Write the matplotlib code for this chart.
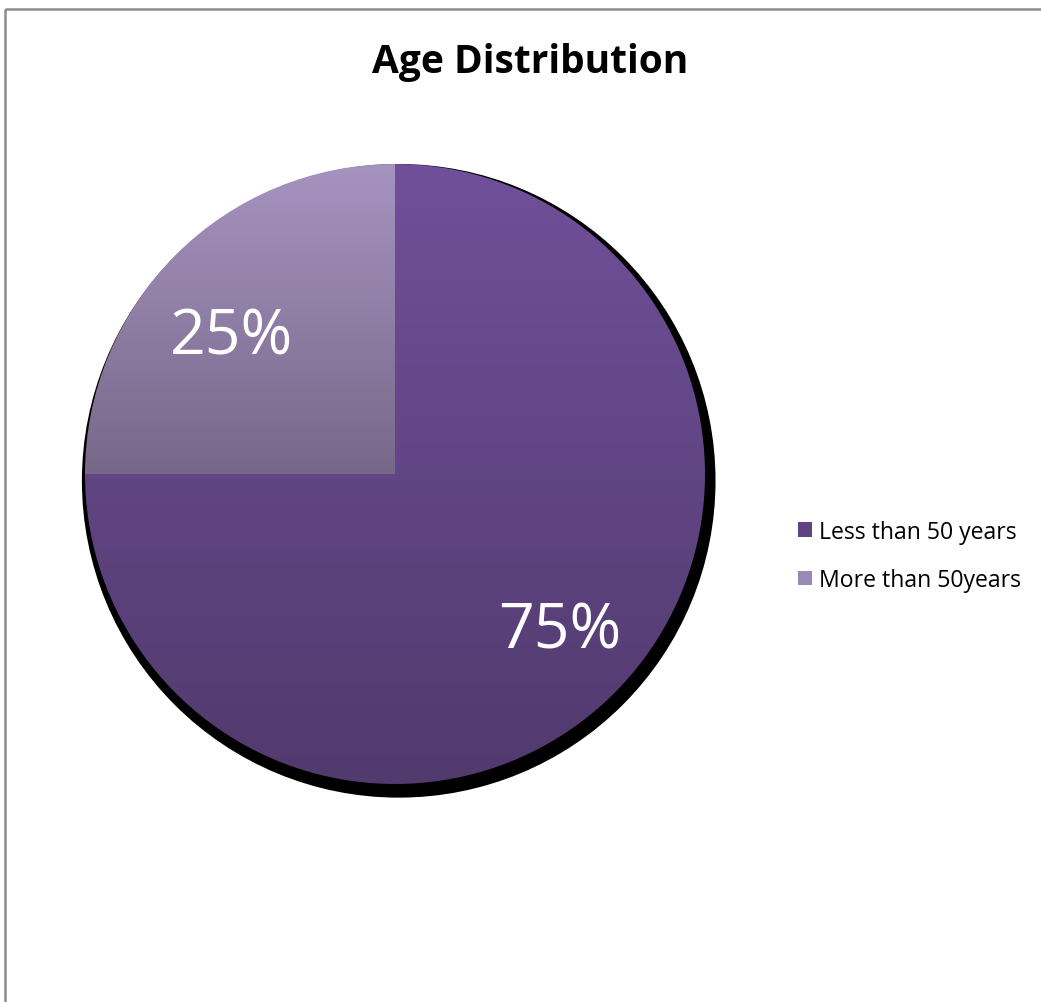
import numpy as np
import matplotlib
matplotlib.use("Agg")
import matplotlib.pyplot as plt
from matplotlib.patches import Circle, Rectangle
from matplotlib.colors import LinearSegmentedColormap

title = "Age Distribution"
categories = ["Less than 50 years", "More than 50years"]
values = [75, 25]
top_colors = ["#70509a", "#a693c0"]
bottom_colors = ["#513a6d", "#776889"]

W, H = 1041, 1003
fig = plt.figure(figsize=(W / 100, H / 100), dpi=100)
fig.patch.set_facecolor("white")

# frame around chart area
frame_ax = fig.add_axes([0, 0, 1, 1])
frame_ax.set_xlim(0, W)
frame_ax.set_ylim(H, 0)
frame_ax.axis("off")
frame_ax.add_patch(Rectangle((5, 10), W + 20, H + 20, fill=False,
                             edgecolor="#8c8c8c", linewidth=1.8))

fig.text(530 / W, 1 - 62 / H, title, ha="center", va="center",
         fontsize=28, fontweight="bold", family="Open Sans", color="black")

# pie axes
cx, cy, r = 395, 475, 310
s = 1.05
ax = fig.add_axes([(cx - r * s) / W, 1 - (cy + r * s) / H, 2 * s * r / W, 2 * s * r / H])
ax.set_xlim(-s, s)
ax.set_ylim(-s, s)
ax.set_aspect("equal")
ax.axis("off")

ax.add_patch(Circle((0.012, -0.022), 1.022, facecolor="black", edgecolor="none", zorder=0))

wedges, texts, autotexts = ax.pie(
    values, startangle=90, counterclock=False, radius=1,
    autopct="%.0f%%", pctdistance=0.71,
    textprops=dict(color="white", fontsize=45, family="Open Sans"),
    wedgeprops=dict(linewidth=0),
)

for w, tc, bc in zip(wedges, top_colors, bottom_colors):
    w.set_facecolor("none")
    bb = w.get_path().get_extents(w.get_patch_transform())
    cmap = LinearSegmentedColormap.from_list("g", [bc, tc])
    grad = np.linspace(0, 1, 256).reshape(-1, 1)
    im = ax.imshow(grad, cmap=cmap, origin="lower", aspect="auto",
                   extent=[bb.x0, bb.x1, bb.y0, bb.y1], zorder=1)
    im.set_clip_path(w)
    w.set_zorder(2)
ax.set_xlim(-s, s)
ax.set_ylim(-s, s)

label_pos = [(0.531, -0.561), (-0.527, 0.390)]
for t, (x, y) in zip(autotexts, label_pos):
    t.set_position((x, y))
    t.set_va("baseline")
    t.set_zorder(3)

# legend
handles = [Rectangle((0, 0), 1, 1, facecolor=c, edgecolor="none")
           for c in ["#5e4480", "#9a89b3"]]
fig.legend(handles, categories, loc="center left",
           bbox_to_anchor=(786 / W, 1 - 557 / H), frameon=False,
           prop=dict(family="Open Sans", size=16.6),
           handlelength=0.62, handleheight=0.62, handletextpad=0.3,
           labelspacing=1.05, borderpad=0)

fig.savefig("out.png", dpi=100, facecolor="white")
